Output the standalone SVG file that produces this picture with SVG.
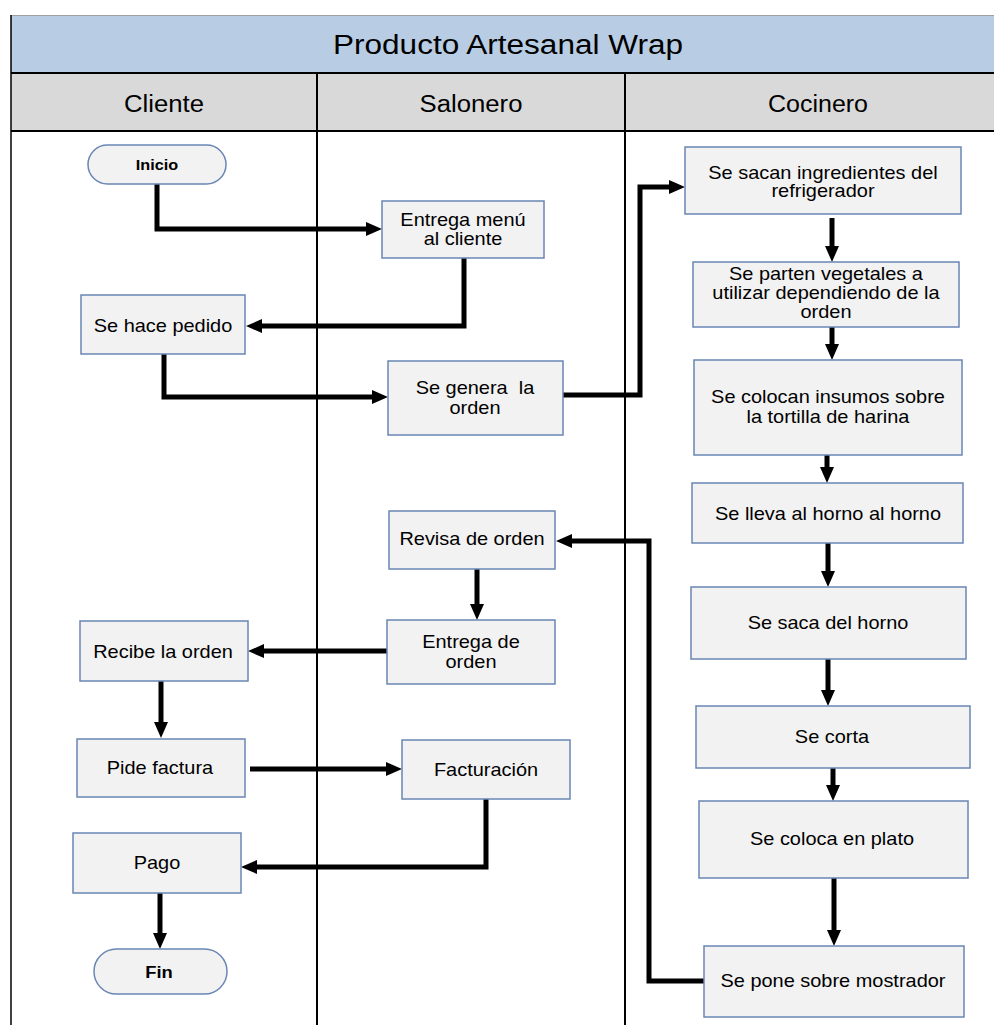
<svg xmlns="http://www.w3.org/2000/svg" width="994" height="1025" viewBox="0 0 994 1025">
  <style>
    .lbl { font-family: "Liberation Sans", Arial, sans-serif; fill: #000; text-anchor: middle;
           transform-box: fill-box; transform-origin: center; }
    .title { font-size: 27px; }
    .lane { font-size: 23px; }
    .txt { font-size: 17.5px; transform: scaleX(1.14); }
    .term { font-size: 15px; font-weight: bold; transform: scaleX(1.08); }
    .box { fill: #f2f2f2; stroke: #6a86b4; stroke-width: 1.5; }
    .conn { fill: none; stroke: #000; stroke-width: 5; stroke-linejoin: miter; marker-end: url(#arrow); }
    .div { stroke: #000; stroke-width: 2; }
  </style>
  <defs>
    <marker id="arrow" markerUnits="userSpaceOnUse" markerWidth="16" markerHeight="14" refX="8" refY="7" orient="auto">
      <path d="M0,0 L16,7 L0,14 z" fill="#000"/>
    </marker>
  </defs>

  <rect width="994" height="1025" fill="#fff"/>

  <!-- pool header and lane headers -->
  <g id="pool">
    <rect x="11" y="16" width="983" height="57" fill="#b8cce4"/>
    <rect x="11" y="73" width="983" height="58" fill="#d9d9d9"/>
    <line x1="11" y1="15.5" x2="994" y2="15.5" stroke="#a0a0a0" stroke-width="1"/>
    <line x1="11" y1="15" x2="11" y2="1025" stroke="#000" stroke-width="1.5"/>
    <line x1="11" y1="73" x2="994" y2="73" class="div"/>
    <line x1="11" y1="131" x2="994" y2="131" class="div" stroke-width="2.5"/>
    <line x1="317" y1="73" x2="317" y2="1025" class="div"/>
    <line x1="625" y1="73" x2="625" y2="1025" class="div" stroke-width="1.6"/>
    <text class="lbl title" x="508" y="54" textLength="350" lengthAdjust="spacingAndGlyphs">Producto Artesanal Wrap</text>
    <text class="lbl lane" x="164" y="112" textLength="80" lengthAdjust="spacingAndGlyphs">Cliente</text>
    <text class="lbl lane" x="471" y="112" textLength="103" lengthAdjust="spacingAndGlyphs">Salonero</text>
    <text class="lbl lane" x="818" y="112" textLength="100" lengthAdjust="spacingAndGlyphs">Cocinero</text>
  </g>

  <!-- connectors -->
  <g id="connectors">
    <path class="conn" d="M157,184 V229 H374"/>
    <path class="conn" d="M464,258 V326 H254"/>
    <path class="conn" d="M164,354 V397 H380"/>
    <path class="conn" d="M563,395 H640 V187 H677"/>
    <path class="conn" d="M832,218 V254"/>
    <path class="conn" d="M832,327 V352"/>
    <path class="conn" d="M827,455 V475"/>
    <path class="conn" d="M828,543 V579"/>
    <path class="conn" d="M828,659 V698"/>
    <path class="conn" d="M833,768 V793"/>
    <path class="conn" d="M834,878 V938"/>
    <path class="conn" d="M704,981 H649 V541 H564"/>
    <path class="conn" d="M477,569 V612"/>
    <path class="conn" d="M387,651 H256"/>
    <path class="conn" d="M161,681 V730"/>
    <path class="conn" d="M250,769 H394"/>
    <path class="conn" d="M486,799 V867 H249"/>
    <path class="conn" d="M160,893 V941"/>
  </g>

  <!-- Cliente lane -->
  <g id="inicio">
    <rect class="box" x="88" y="145" width="138" height="39" rx="19.5"/>
    <text class="lbl term" x="157" y="170">Inicio</text>
  </g>
  <g id="se-hace-pedido">
    <rect class="box" x="81" y="295" width="164" height="59"/>
    <text class="lbl txt" x="163" y="332">Se hace pedido</text>
  </g>
  <g id="recibe-la-orden">
    <rect class="box" x="80" y="621" width="168" height="60"/>
    <text class="lbl txt" x="163" y="658">Recibe la orden</text>
  </g>
  <g id="pide-factura">
    <rect class="box" x="77" y="739" width="168" height="58"/>
    <text class="lbl txt" x="160" y="774">Pide factura</text>
  </g>
  <g id="pago">
    <rect class="box" x="73" y="833" width="168" height="60"/>
    <text class="lbl txt" x="157" y="869">Pago</text>
  </g>
  <g id="fin">
    <rect class="box" x="94" y="949" width="133" height="45" rx="22.5"/>
    <text class="lbl term" x="159" y="978" style="font-size:17px">Fin</text>
  </g>

  <!-- Salonero lane -->
  <g id="entrega-menu">
    <rect class="box" x="382" y="201" width="162" height="57"/>
    <text class="lbl txt" x="463" y="226">Entrega menú</text>
    <text class="lbl txt" x="463" y="245">al cliente</text>
  </g>
  <g id="se-genera-la-orden">
    <rect class="box" x="388" y="361" width="175" height="74"/>
    <text class="lbl txt" x="475" y="394" xml:space="preserve">Se genera  la</text>
    <text class="lbl txt" x="475" y="414">orden</text>
  </g>
  <g id="revisa-de-orden">
    <rect class="box" x="389" y="511" width="166" height="58"/>
    <text class="lbl txt" x="472" y="545">Revisa de orden</text>
  </g>
  <g id="entrega-de-orden">
    <rect class="box" x="387" y="620" width="168" height="64"/>
    <text class="lbl txt" x="471" y="648">Entrega de</text>
    <text class="lbl txt" x="471" y="668">orden</text>
  </g>
  <g id="facturacion">
    <rect class="box" x="402" y="740" width="168" height="59"/>
    <text class="lbl txt" x="486" y="776">Facturación</text>
  </g>

  <!-- Cocinero lane -->
  <g id="sacan-ingredientes">
    <rect class="box" x="685" y="147" width="276" height="67"/>
    <text class="lbl txt" x="823" y="179">Se sacan ingredientes del</text>
    <text class="lbl txt" x="823" y="197">refrigerador</text>
  </g>
  <g id="parten-vegetales">
    <rect class="box" x="693" y="262" width="266" height="65"/>
    <text class="lbl txt" x="826" y="280">Se parten vegetales a</text>
    <text class="lbl txt" x="826" y="299">utilizar dependiendo de la</text>
    <text class="lbl txt" x="826" y="318">orden</text>
  </g>
  <g id="colocan-insumos">
    <rect class="box" x="694" y="360" width="268" height="95"/>
    <text class="lbl txt" x="828" y="403">Se colocan insumos sobre</text>
    <text class="lbl txt" x="828" y="423">la tortilla de harina</text>
  </g>
  <g id="lleva-al-horno">
    <rect class="box" x="692" y="483" width="271" height="60"/>
    <text class="lbl txt" x="828" y="520">Se lleva al horno al horno</text>
  </g>
  <g id="saca-del-horno">
    <rect class="box" x="691" y="587" width="275" height="72"/>
    <text class="lbl txt" x="828" y="629">Se saca del horno</text>
  </g>
  <g id="se-corta">
    <rect class="box" x="696" y="706" width="274" height="62"/>
    <text class="lbl txt" x="832" y="743">Se corta</text>
  </g>
  <g id="coloca-en-plato">
    <rect class="box" x="699" y="801" width="269" height="77"/>
    <text class="lbl txt" x="832" y="845">Se coloca en plato</text>
  </g>
  <g id="pone-sobre-mostrador">
    <rect class="box" x="704" y="946" width="260" height="71"/>
    <text class="lbl txt" x="833" y="987">Se pone sobre mostrador</text>
  </g>
</svg>
